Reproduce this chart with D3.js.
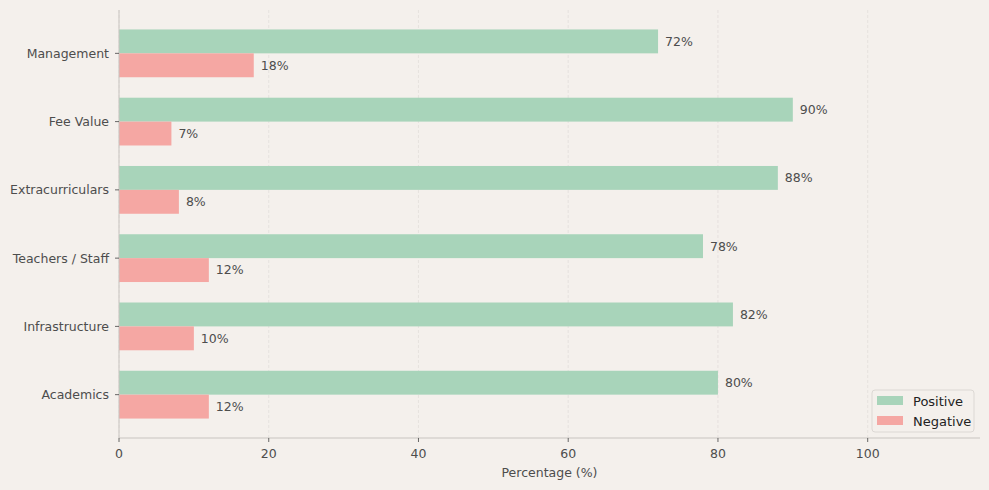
<!DOCTYPE html>
<html>
<head>
<meta charset="utf-8">
<script src="https://cdn.jsdelivr.net/npm/d3@7.9.0/dist/d3.min.js"></script>
<style>
  body { margin: 0; background: #f4f0ec; }
  svg { display: block; font-family: "DejaVu Sans", sans-serif; }
</style>
</head>
<body>
<svg id="chart" width="989" height="490"></svg>
<script>
const categories = ["Management", "Fee Value", "Extracurriculars", "Teachers / Staff", "Infrastructure", "Academics"];
const positive = [72, 90, 88, 78, 82, 80];
const negative = [18, 7, 8, 12, 10, 12];
const xTicks = [0, 20, 40, 60, 80, 100];
const seriesNames = ["Positive", "Negative"];

const width = 989;
const height = 490;
const margin = { top: 10, right: 9, bottom: 52, left: 119 };
const colors = { Positive: "#a8d4ba", Negative: "#f5a7a3" };
const textColor = "#4d4d4d";
const barH = 0.35;

const svg = d3.select("#chart");
svg.append("rect").attr("width", width).attr("height", height).attr("fill", "#f4f0ec");

const x = d3.scaleLinear().domain([0, 115]).range([margin.left, width - margin.right]);
// bars run from -0.35 to n-1+0.35, plus 5% margins like matplotlib
const n = categories.length;
const lo = -barH, hi = n - 1 + barH;
const pad = (hi - lo) * 0.05;
const y = d3.scaleLinear().domain([lo - pad, hi + pad]).range([height - margin.bottom, margin.top]);
const pos = (i) => n - 1 - i;

// grid
svg.append("g")
  .selectAll("line")
  .data(xTicks)
  .join("line")
  .attr("x1", (d) => x(d)).attr("x2", (d) => x(d))
  .attr("y1", margin.top).attr("y2", height - margin.bottom)
  .attr("stroke", "#e2deda")
  .attr("stroke-width", 0.8)
  .attr("stroke-dasharray", "3,2");

// bars + value labels
categories.forEach((c, i) => {
  svg.append("rect")
    .attr("x", x(0))
    .attr("y", y(pos(i) + barH))
    .attr("width", x(positive[i]) - x(0))
    .attr("height", y(pos(i)) - y(pos(i) + barH))
    .attr("fill", colors.Positive);
  svg.append("rect")
    .attr("x", x(0))
    .attr("y", y(pos(i)))
    .attr("width", x(negative[i]) - x(0))
    .attr("height", y(pos(i) - barH) - y(pos(i)))
    .attr("fill", colors.Negative);

  svg.append("text")
    .attr("x", x(positive[i]) + 7)
    .attr("y", y(pos(i) + barH / 2))
    .attr("dy", "0.35em")
    .attr("font-size", 12.5)
    .attr("fill", textColor)
    .text(`${positive[i]}%`);
  svg.append("text")
    .attr("x", x(negative[i]) + 7)
    .attr("y", y(pos(i) - barH / 2))
    .attr("dy", "0.35em")
    .attr("font-size", 12.5)
    .attr("fill", textColor)
    .text(`${negative[i]}%`);
});

// spines
svg.append("line")
  .attr("x1", x(0)).attr("x2", x(0))
  .attr("y1", margin.top).attr("y2", height - margin.bottom)
  .attr("stroke", "#c8c4c0").attr("stroke-width", 1);
svg.append("line")
  .attr("x1", x(0)).attr("x2", width - margin.right)
  .attr("y1", height - margin.bottom).attr("y2", height - margin.bottom)
  .attr("stroke", "#c8c4c0").attr("stroke-width", 1);

// x ticks
const xt = svg.append("g");
xTicks.forEach((t) => {
  xt.append("line")
    .attr("x1", x(t)).attr("x2", x(t))
    .attr("y1", height - margin.bottom).attr("y2", height - margin.bottom + 4)
    .attr("stroke", "#444").attr("stroke-width", 0.8);
  xt.append("text")
    .attr("x", x(t))
    .attr("y", height - margin.bottom + 16)
    .attr("dy", "0.35em")
    .attr("text-anchor", "middle")
    .attr("font-size", 12.5)
    .attr("fill", textColor)
    .text(t);
});

// y ticks
const yt = svg.append("g");
categories.forEach((c, i) => {
  yt.append("line")
    .attr("x1", x(0) - 4).attr("x2", x(0))
    .attr("y1", y(pos(i))).attr("y2", y(pos(i)))
    .attr("stroke", "#444").attr("stroke-width", 0.8);
  yt.append("text")
    .attr("x", x(0) - 10)
    .attr("y", y(pos(i)))
    .attr("dy", "0.35em")
    .attr("text-anchor", "end")
    .attr("font-size", 12.5)
    .attr("fill", textColor)
    .text(c);
});

// axis label
svg.append("text")
  .attr("x", (x(0) + width - margin.right) / 2)
  .attr("y", 473)
  .attr("dy", "0.35em")
  .attr("text-anchor", "middle")
  .attr("font-size", 12.5)
  .attr("fill", textColor)
  .text("Percentage (%)");

// legend
const lg = svg.append("g").attr("transform", "translate(872,390)");
lg.append("rect")
  .attr("width", 102).attr("height", 42).attr("rx", 3)
  .attr("fill", "#f4f0ec").attr("stroke", "#dcd8d4").attr("stroke-width", 1);
seriesNames.forEach((s, i) => {
  lg.append("rect")
    .attr("x", 5).attr("y", 6 + i * 20)
    .attr("width", 26).attr("height", 9)
    .attr("fill", colors[s]);
  lg.append("text")
    .attr("x", 41).attr("y", 11 + i * 20)
    .attr("dy", "0.35em")
    .attr("font-size", 13)
    .attr("fill", "#222")
    .text(s);
});
</script>
</body>
</html>
